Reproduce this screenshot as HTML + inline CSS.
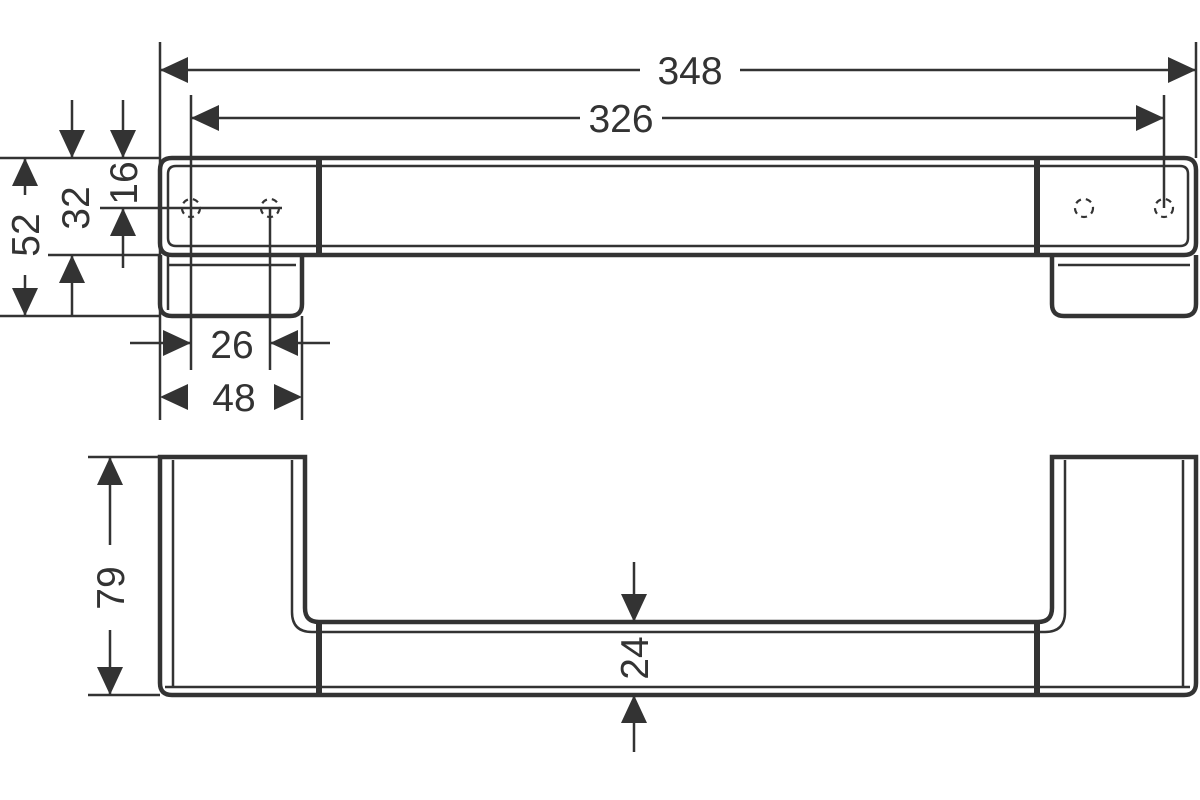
<!DOCTYPE html><html><head><style>body{margin:0;background:#fff}svg{display:block}text{font-family:"Liberation Sans",sans-serif;font-size:39px;fill:#333}</style></head><body>
<svg width="1200" height="800" viewBox="0 0 1200 800" xmlns="http://www.w3.org/2000/svg">
<defs>
<path id="aL" d="M0 0 L28 -13 L28 13 Z" fill="#333"/>
</defs>
<g stroke="#333" fill="none">
<g stroke-width="4.5">
<path d="M172 158 H1184 Q1196 158 1196 170 V243 Q1196 255 1184 255 H172 Q160 255 160 243 V170 Q160 158 172 158 Z"/>
<path d="M160 255 V304 Q160 316 172 316 H290 Q302 316 302 304 V255"/>
<path d="M1052 255 V304 Q1052 316 1064 316 H1184 Q1196 316 1196 304 V255"/>
<line x1="319" y1="158" x2="319" y2="255" stroke-width="6"/>
<line x1="1037" y1="158" x2="1037" y2="255" stroke-width="6"/>
</g>
<g stroke-width="2.5">
<path d="M176 166 H1180 Q1188 166 1188 174 V238 Q1188 246 1180 246 H176 Q168 246 168 238 V174 Q168 166 176 166"/>
<line x1="168" y1="265" x2="296" y2="265"/><line x1="1058" y1="265" x2="1190" y2="265"/>
<line x1="168" y1="255" x2="168" y2="310"/>
</g>
<g stroke-width="2.2" stroke-dasharray="6 5">
<circle cx="191" cy="208" r="9"/><circle cx="270" cy="208" r="9"/><circle cx="1084" cy="208" r="9"/><circle cx="1164" cy="208" r="9"/>
</g>
<g stroke-width="4.5">
<path d="M172 457 H305 V608 Q305 622 319 622 H1038 Q1052 622 1052 608 V457 H1196 V683 Q1196 695 1184 695 H172 Q160 695 160 683 V457 Z"/>
<line x1="319" y1="622" x2="319" y2="695" stroke-width="6"/>
<line x1="1037" y1="622" x2="1037" y2="695" stroke-width="6"/>
</g>
<g stroke-width="2.5">
<line x1="173" y1="460" x2="173" y2="687"/><line x1="1183" y1="460" x2="1183" y2="687"/>
<line x1="165" y1="687" x2="1190" y2="687"/>
<path d="M292 460 V612 Q292 632 312 632 H1045 Q1065 632 1065 612 V460"/>
</g>
<g stroke-width="2.5">
<line x1="160" y1="42" x2="160" y2="420"/><line x1="1196" y1="42" x2="1196" y2="158"/>
<line x1="160" y1="70" x2="640" y2="70"/><line x1="740" y1="70" x2="1196" y2="70"/>
<line x1="191" y1="95" x2="191" y2="370"/><line x1="1164" y1="95" x2="1164" y2="208"/>
<line x1="191" y1="118" x2="580" y2="118"/><line x1="662" y1="118" x2="1164" y2="118"/>
<line x1="0" y1="158" x2="160" y2="158"/><line x1="0" y1="316" x2="160" y2="316"/>
<line x1="48" y1="255" x2="160" y2="255"/><line x1="100" y1="208" x2="282" y2="208"/>
<line x1="25" y1="158" x2="25" y2="195"/><line x1="25" y1="275" x2="25" y2="316"/>
<line x1="72" y1="100" x2="72" y2="158"/><line x1="72" y1="255" x2="72" y2="316"/>
<line x1="123" y1="100" x2="123" y2="158"/><line x1="123" y1="208" x2="123" y2="268"/>
<line x1="270" y1="208" x2="270" y2="370"/><line x1="302" y1="316" x2="302" y2="420"/>
<line x1="130" y1="343" x2="191" y2="343"/><line x1="270" y1="343" x2="330" y2="343"/>
<line x1="88" y1="457" x2="160" y2="457"/><line x1="88" y1="695" x2="160" y2="695"/>
<line x1="110" y1="457" x2="110" y2="545"/><line x1="110" y1="630" x2="110" y2="695"/>
<line x1="634" y1="562" x2="634" y2="622"/><line x1="634" y1="695" x2="634" y2="752"/>
</g>
</g>
<use href="#aL" transform="translate(160,70)"/><use href="#aL" transform="translate(1196,70) rotate(180)"/>
<use href="#aL" transform="translate(191,118)"/><use href="#aL" transform="translate(1164,118) rotate(180)"/>
<use href="#aL" transform="translate(25,158) rotate(90)"/><use href="#aL" transform="translate(25,316) rotate(-90)"/>
<use href="#aL" transform="translate(72,158) rotate(-90)"/><use href="#aL" transform="translate(72,255) rotate(90)"/>
<use href="#aL" transform="translate(123,158) rotate(-90)"/><use href="#aL" transform="translate(123,208) rotate(90)"/>
<use href="#aL" transform="translate(191,343) rotate(180)"/><use href="#aL" transform="translate(270,343)"/>
<use href="#aL" transform="translate(160,397)"/><use href="#aL" transform="translate(302,397) rotate(180)"/>
<use href="#aL" transform="translate(110,457) rotate(90)"/><use href="#aL" transform="translate(110,695) rotate(-90)"/>
<use href="#aL" transform="translate(634,622) rotate(-90)"/><use href="#aL" transform="translate(634,695) rotate(90)"/>
<text x="690" y="84" text-anchor="middle">348</text>
<text x="621" y="132" text-anchor="middle">326</text>
<text x="232" y="358" text-anchor="middle">26</text>
<text x="234" y="411" text-anchor="middle">48</text>
<text transform="translate(39,235) rotate(-90)" text-anchor="middle">52</text>
<text transform="translate(89,208) rotate(-90)" text-anchor="middle">32</text>
<text transform="translate(137,183) rotate(-90)" text-anchor="middle">16</text>
<text transform="translate(124,588) rotate(-90)" text-anchor="middle">79</text>
<text transform="translate(648,658) rotate(-90)" text-anchor="middle">24</text>
</svg>
</body></html>
